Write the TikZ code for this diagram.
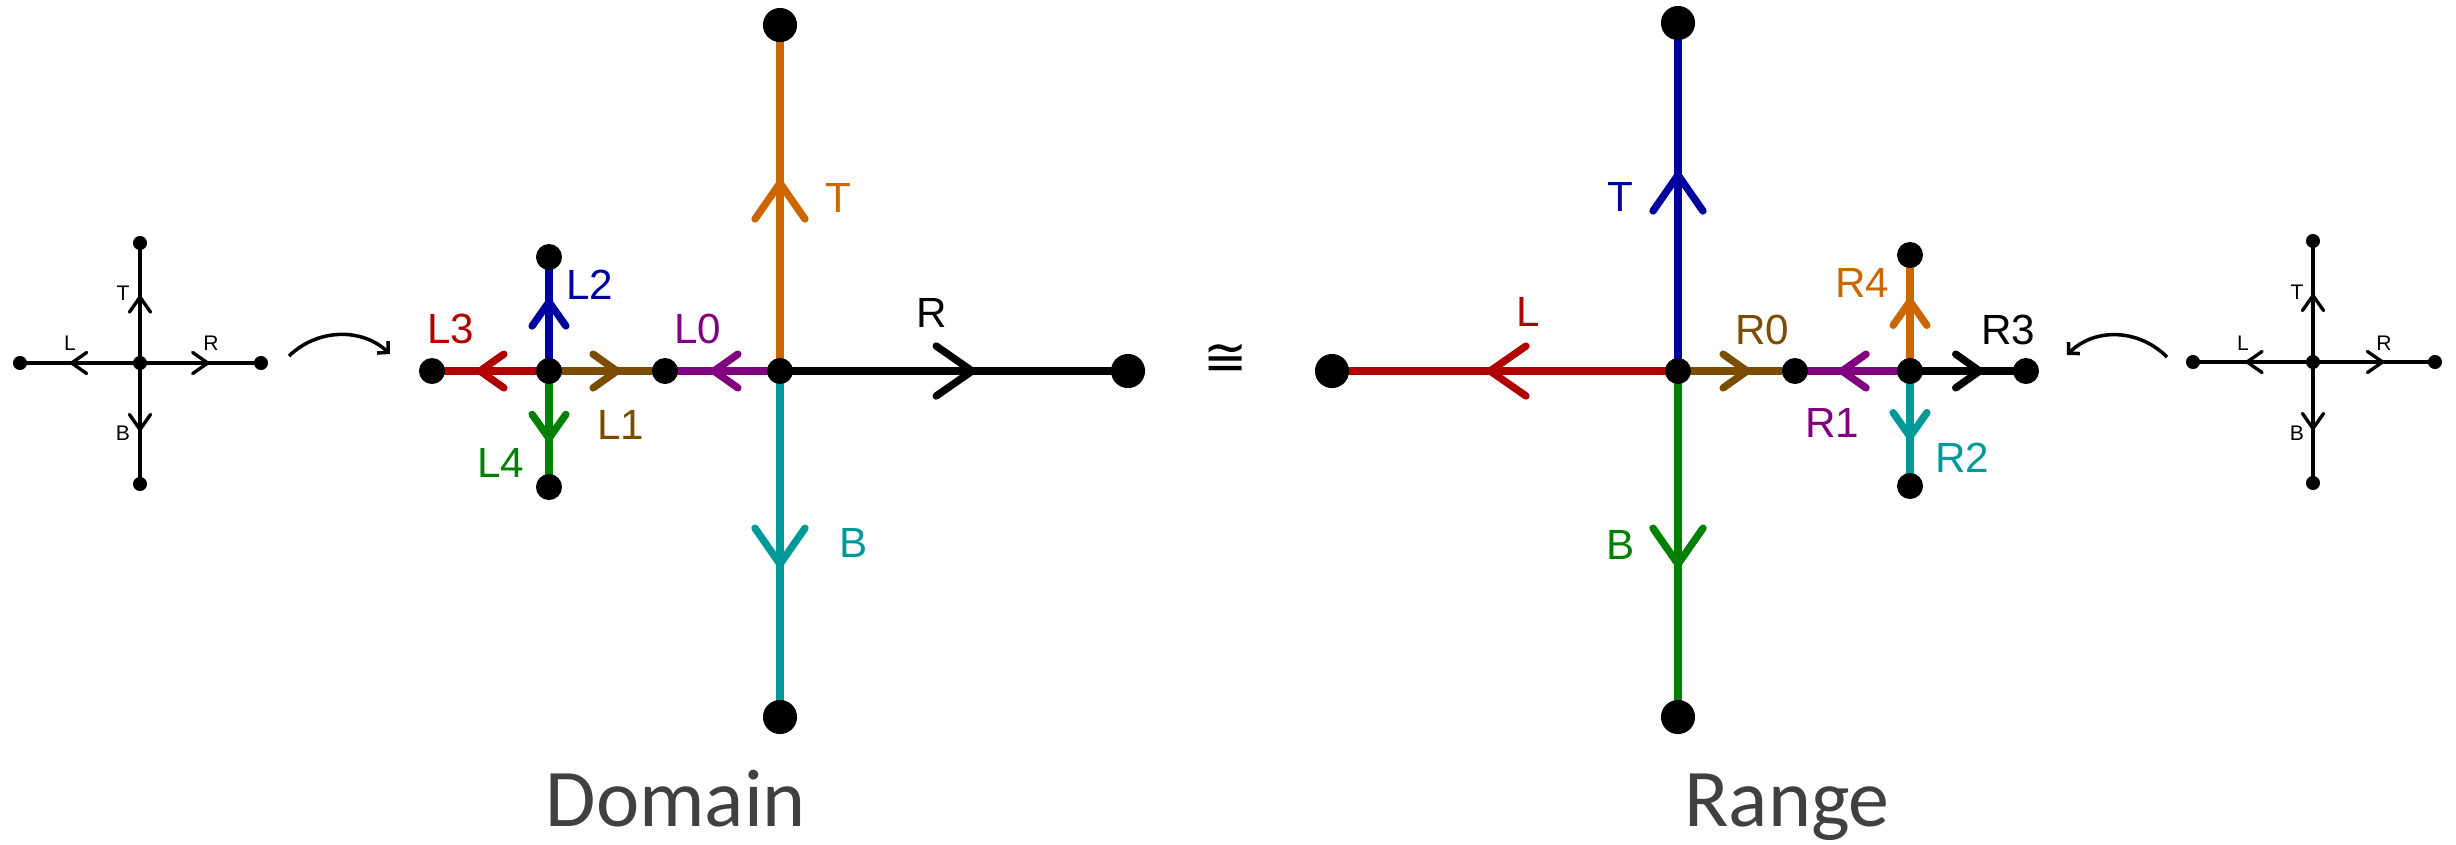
\documentclass[tikz,border=0pt]{standalone}
\usepackage{fontspec}
\setmainfont{Liberation Sans}
\newfontfamily\capfont{Carlito}
\newfontfamily\symfont{DejaVu Sans}
\usetikzlibrary{decorations.markings,arrows.meta}
\pgfdeclarelayer{bg}
\pgfsetlayers{bg,main}
\definecolor{corange}{HTML}{CC6600}
\definecolor{cteal}{HTML}{009999}
\definecolor{cpurple}{HTML}{800080}
\definecolor{cbrown}{HTML}{7A4D00}
\definecolor{cblue}{HTML}{0000A0}
\definecolor{cred}{HTML}{B00000}
\definecolor{cgreen}{HTML}{008000}
\definecolor{cgray}{HTML}{404040}
\tikzset{
  bigdot/.style={circle,fill=black,inner sep=0pt,minimum size=9.7pt},
  meddot/.style={circle,fill=black,inner sep=0pt,minimum size=7.4pt},
  tinydot/.style={circle,fill=black,inner sep=0pt,minimum size=4pt},
  edge/.style={line width=2.1pt},
  thinedge/.style={line width=0.95pt},
  chevbig/.style={postaction={decorate},decoration={markings,mark=at position #1 with {\draw[line cap=round,line join=round] (-10.2pt,7.1pt) -- (0pt,0pt) -- (-10.2pt,-7.1pt);}}},
  chevmed/.style={postaction={decorate},decoration={markings,mark=at position #1 with {\draw[line cap=round,line join=round] (-6.8pt,4.8pt) -- (0pt,0pt) -- (-6.8pt,-4.8pt);}}},
  chevsmall/.style={postaction={decorate},decoration={markings,mark=at position #1 with {\draw[line cap=round,line join=round] (-4.3pt,3pt) -- (0pt,0pt) -- (-4.3pt,-3pt);}}},
  lab/.style={inner sep=0pt,font=\fontsize{12}{12}\selectfont},
  slab/.style={inner sep=0pt,font=\fontsize{6}{6}\selectfont,text=black},
  title/.style={inner sep=0pt,anchor=base,text=cgray,font=\capfont\fontsize{23.3}{23.3}\selectfont},
  curvarrow/.style={line width=1pt,-{Straight Barb[length=2.2pt,width=4.6pt]}}
}
\begin{document}
\begin{tikzpicture}[x=0.01cm,y=-0.01cm]
\useasboundingbox (0,0) rectangle (2456,844);

% ---------- left small cross ----------
\node[tinydot] (sC) at (140,363) {};
\node[tinydot] (sT) at (140,243) {};
\node[tinydot] (sB) at (140,484) {};
\node[tinydot] (sL) at (20,363) {};
\node[tinydot] (sR) at (261,363) {};
\begin{pgfonlayer}{bg}
\draw[thinedge,chevsmall=0.55] (sC.center) -- (sT.center);
\draw[thinedge,chevsmall=0.57] (sC.center) -- (sL.center);
\draw[thinedge,chevsmall=0.56] (sC.center) -- (sR.center);
\draw[thinedge,chevsmall=0.55] (sC.center) -- (sB.center);
\end{pgfonlayer}
\node[slab] (sTl) at (123,293) {T};
\node[slab] (sLl) at (70,343) {L};
\node[slab] (sRl) at (211,343) {R};
\node[slab] (sBl) at (123,433) {B};
\coordinate (ca1) at (289,356);
\coordinate (ca2) at (390,354);
\draw[curvarrow] (ca1) .. controls (318,328) and (362,328) .. (ca2);

% ---------- Domain ----------
\node[meddot] (dC) at (780,371) {};
\node[bigdot] (dT) at (780,25) {};
\node[bigdot] (dB) at (780,717) {};
\node[bigdot] (dR) at (1128,371) {};
\node[meddot] (dN1) at (665,371) {};
\node[meddot] (dN2) at (549,371) {};
\node[meddot] (dL3) at (432,371) {};
\node[meddot] (dL2) at (549,257) {};
\node[meddot] (dL4) at (549,487) {};
\begin{pgfonlayer}{bg}
\draw[edge,corange,chevbig=0.543] (dC.center) -- (dT.center);
\draw[edge,black,chevbig=0.552] (dC.center) -- (dR.center);
\draw[edge,cteal,chevbig=0.558] (dC.center) -- (dB.center);
\draw[edge,cpurple,chevmed=0.574] (dC.center) -- (dN1.center);
\draw[edge,cbrown,chevmed=0.586] (dN2.center) -- (dN1.center);
\draw[edge,cred,chevmed=0.59] (dN2.center) -- (dL3.center);
\draw[edge,cblue,chevmed=0.605] (dN2.center) -- (dL2.center);
\draw[edge,cgreen,chevmed=0.58] (dN2.center) -- (dL4.center);
\end{pgfonlayer}
\node[lab,text=corange] (dTl) at (838,198) {T};
\node[lab,text=black] (dRl) at (932,313) {R};
\node[lab,text=cteal] (dBl) at (854,543) {B};
\node[lab,text=cpurple] (dL0l) at (698,329) {L0};
\node[lab,text=cbrown] (dL1l) at (621,425) {L1};
\node[lab,text=cblue] (dL2l) at (590,285) {L2};
\node[lab,text=cred] (dL3l) at (451,329) {L3};
\node[lab,text=cgreen] (dL4l) at (501,463) {L4};
\node[title] (dom) at (676,826) {Domain};

% ---------- congruence ----------
\node[inner sep=0pt,font=\symfont\fontsize{15}{15}\selectfont] (cong) at (1226,360) {≅};

% ---------- Range ----------
\node[meddot] (rC) at (1678,371) {};
\node[bigdot] (rT) at (1678,23) {};
\node[bigdot] (rB) at (1678,717) {};
\node[bigdot] (rL) at (1332,371) {};
\node[meddot] (rN1) at (1795,371) {};
\node[meddot] (rN2) at (1910,371) {};
\node[meddot] (rR3) at (2026,371) {};
\node[meddot] (rR4) at (1910,255) {};
\node[meddot] (rR2) at (1910,486) {};
\begin{pgfonlayer}{bg}
\draw[edge,cblue,chevbig=0.563] (rC.center) -- (rT.center);
\draw[edge,cgreen,chevbig=0.558] (rC.center) -- (rB.center);
\draw[edge,cred,chevbig=0.543] (rC.center) -- (rL.center);
\draw[edge,cbrown,chevmed=0.59] (rC.center) -- (rN1.center);
\draw[edge,cpurple,chevmed=0.59] (rN2.center) -- (rN1.center);
\draw[edge,black,chevmed=0.6] (rN2.center) -- (rR3.center);
\draw[edge,corange,chevmed=0.6] (rN2.center) -- (rR4.center);
\draw[edge,cteal,chevmed=0.57] (rN2.center) -- (rR2.center);
\end{pgfonlayer}
\node[lab,text=cblue] (rTl) at (1620,197) {T};
\node[lab,text=cred] (rLl) at (1528,312) {L};
\node[lab,text=cgreen] (rBl) at (1621,545) {B};
\node[lab,text=cbrown] (rR0l) at (1762,330) {R0};
\node[lab,text=cpurple] (rR1l) at (1832,423) {R1};
\node[lab,text=cteal] (rR2l) at (1962,458) {R2};
\node[lab,text=black] (rR3l) at (2008,330) {R3};
\node[lab,text=corange] (rR4l) at (1862,283) {R4};
\node[title] (ran) at (1787,826) {Range};

% ---------- right small cross ----------
\node[tinydot] (tC) at (2313,362) {};
\node[tinydot] (tT) at (2313,241) {};
\node[tinydot] (tB) at (2313,483) {};
\node[tinydot] (tL) at (2193,362) {};
\node[tinydot] (tR) at (2435,362) {};
\begin{pgfonlayer}{bg}
\draw[thinedge,chevsmall=0.55] (tC.center) -- (tT.center);
\draw[thinedge,chevsmall=0.55] (tC.center) -- (tL.center);
\draw[thinedge,chevsmall=0.57] (tC.center) -- (tR.center);
\draw[thinedge,chevsmall=0.55] (tC.center) -- (tB.center);
\end{pgfonlayer}
\node[slab] (tTl) at (2297,292) {T};
\node[slab] (tLl) at (2243,343) {L};
\node[slab] (tRl) at (2384,343) {R};
\node[slab] (tBl) at (2297,433) {B};
\coordinate (cb1) at (2167,357);
\coordinate (cb2) at (2067,355);
\draw[curvarrow] (cb1) .. controls (2138,328) and (2094,328) .. (cb2);
\end{tikzpicture}
\end{document}
